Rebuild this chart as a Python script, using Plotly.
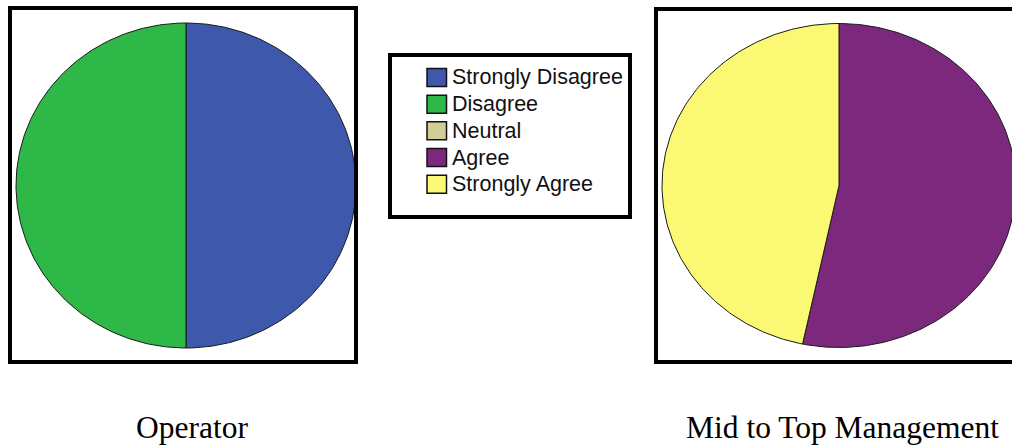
import numpy as np
import plotly.graph_objects as go

# Response categories and their colours
categories = ["Strongly Disagree", "Disagree", "Neutral", "Agree", "Strongly Agree"]
colors = ["#3E58AC", "#2EB848", "#D3CE97", "#7C287D", "#FBF873"]

# Share of respondents (%) per category for each group
operator_pct = [50.0, 50.0, 0.0, 0.0, 0.0]
management_pct = [0.0, 0.0, 0.0, 53.3, 46.7]

group_labels = ["Operator", "Mid to Top Management"]

W, H = 1012, 447


def px(x):
    return x / W


def py(y):
    return 1 - y / H


def wedges(values):
    """Slices of a unit pie, clockwise from 12 o'clock, one polygon per category."""
    total = float(sum(values))
    out = []
    start = 0.0
    for name, val, col in zip(categories, values, colors):
        if val <= 0:
            continue
        frac = val / total
        n = max(int(frac * 400), 8)
        th = 2 * np.pi * np.linspace(start, start + frac, n)
        xs = np.concatenate([[0.0], np.sin(th), [0.0]])
        ys = np.concatenate([[0.0], np.cos(th), [0.0]])
        out.append((name, col, xs, ys, val))
        start += frac
    return out


fig = go.Figure()

panels = [
    # (values, axis suffix, plot box in px: x0, x1, y_top, y_bottom, pie centre/radii in px)
    (operator_pct, "", (12, 354, 10, 360), (186, 185.5, 170, 162.5)),
    (management_pct, "2", (658, 1012, 11, 360), (839, 185.5, 177, 162)),
]

shapes = []
for values, sfx, (bx0, bx1, by0, by1), (cx, cy, rx, ry) in panels:
    for name, col, xs, ys, val in wedges(values):
        fig.add_trace(go.Scatter(
            x=xs, y=ys, mode="lines", fill="toself", fillcolor=col,
            line=dict(color="#1a1a1a", width=1),
            name=name, showlegend=False,
            hovertemplate=f"{name}: {val}%<extra></extra>",
            xaxis="x" + sfx, yaxis="y" + sfx,
        ))
    axis_style = dict(showgrid=False, zeroline=False, showticklabels=False, ticks="",
                      showline=False, fixedrange=True)
    fig.update_layout(**{
        "xaxis" + sfx: dict(domain=[px(bx0), px(bx1)],
                            range=[(bx0 - cx) / rx, (bx1 - cx) / rx],
                            anchor="y" + sfx, **axis_style),
        "yaxis" + sfx: dict(domain=[py(by1), py(by0)],
                            range=[(cy - by1) / ry, (cy - by0) / ry],
                            anchor="x" + sfx, **axis_style),
    })
    # frame around each pie panel
    x1_frame = bx1 + 2 if bx1 < W else bx1 + 6
    shapes.append(dict(type="rect", xref="paper", yref="paper",
                       x0=px(bx0 - 2), x1=px(x1_frame), y0=py(by1 + 2), y1=py(by0 - 2),
                       line=dict(color="black", width=4), layer="above"))

# Shared legend panel
shapes.append(dict(type="rect", xref="paper", yref="paper",
                   x0=px(390), x1=px(630), y0=py(217), y1=py(55),
                   line=dict(color="black", width=4), fillcolor="white"))
annotations = []
row_y = [77.5, 104.2, 130.8, 157.5, 184.3]
for name, col, ry_ in zip(categories, colors, row_y):
    shapes.append(dict(type="rect", xref="paper", yref="paper",
                       x0=px(427), x1=px(446.5), y0=py(ry_ + 9), y1=py(ry_ - 9),
                       line=dict(color="#111111", width=1.5), fillcolor=col))
    annotations.append(dict(text=name, xref="paper", yref="paper",
                            x=px(450), y=py(ry_), xanchor="left", yanchor="middle",
                            showarrow=False,
                            font=dict(family="Liberation Sans, Arial, sans-serif",
                                      size=21.5, color="#111111")))

# Group captions
for label, cxp in zip(group_labels, [192, 842.5]):
    annotations.append(dict(text=label, xref="paper", yref="paper",
                            x=px(cxp), y=py(427), xanchor="center", yanchor="middle",
                            showarrow=False,
                            font=dict(family="Liberation Serif, Times New Roman, serif",
                                      size=31.5, color="black")))

fig.update_layout(
    width=W, height=H,
    margin=dict(l=0, r=0, t=0, b=0),
    paper_bgcolor="white", plot_bgcolor="white",
    shapes=shapes, annotations=annotations,
    showlegend=False,
)

fig.write_html("out.html")
